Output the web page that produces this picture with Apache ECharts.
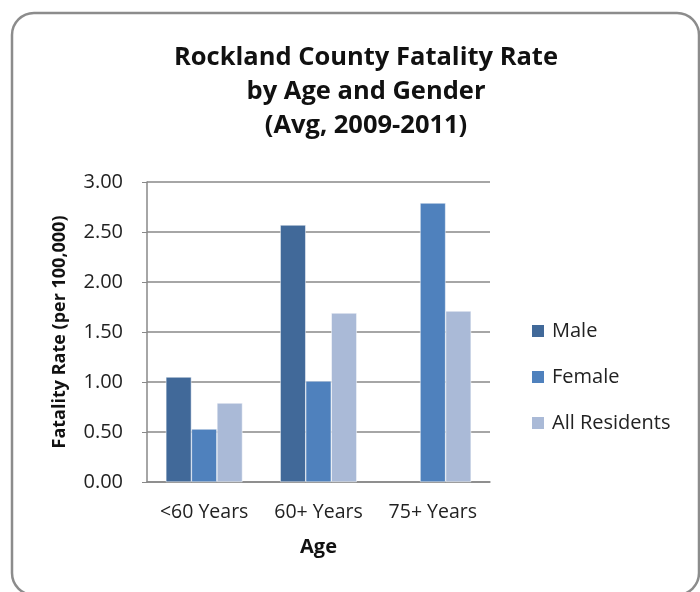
<!DOCTYPE html>
<html><head><meta charset="utf-8">
<script src="https://cdn.jsdelivr.net/npm/echarts@6/dist/echarts.min.js"></script>
<style>html,body{margin:0;padding:0;background:#fff}#c{width:700px;height:592px}</style>
</head><body><div id="c"></div>
<script>
const categories = ['<60 Years', '60+ Years', '75+ Years'];
const maleValues = [1.05, 2.57, null];
const femaleValues = [0.53, 1.01, 2.79];
const allValues = [0.79, 1.69, 1.71];
const yTicks = { min: 0, max: 3, interval: 0.5 };

const font = '"Open Sans", Lato, sans-serif';
const chart = echarts.init(document.getElementById('c'), null, { renderer: 'canvas' });
chart.setOption({
  animation: false,
  backgroundColor: '#fff',
  textStyle: { fontFamily: font },
  graphic: [{
    type: 'rect', shape: { x: 12, y: 13, width: 687, height: 582, r: 22 },
    style: { fill: 'none', stroke: '#8c8c8c', lineWidth: 2.5 }, silent: true, z: -1
  }],
  title: {
    text: 'Rockland County Fatality Rate\nby Age and Gender\n(Avg, 2009-2011)',
    left: 361, top: 36, textAlign: 'center',
    textStyle: { fontFamily: font, fontSize: 25.5, fontWeight: 'bold', color: '#111', lineHeight: 34 }
  },
  legend: {
    orient: 'vertical', left: 530, top: 321, padding: 0, itemGap: 26, itemWidth: 14, itemHeight: 14,
    icon: 'rect',
    textStyle: { fontFamily: font, fontSize: 20, color: '#222', padding: [0, 0, 0, 2] },
    data: ['Male', 'Female', 'All Residents']
  },
  grid: { left: 147, right: 210, top: 182, bottom: 110, containLabel: false },
  xAxis: {
    type: 'category', data: categories,
    name: 'Age', nameLocation: 'middle', nameGap: 55,
    nameTextStyle: { fontFamily: font, fontSize: 20, fontWeight: 'bold', color: '#111' },
    axisLine: { lineStyle: { color: '#888', width: 1.5 } },
    axisTick: { show: false },
    axisLabel: { fontFamily: font, fontSize: 19.5, color: '#222', margin: 20, interval: 0, hideOverlap: false }
  },
  yAxis: {
    type: 'value', min: yTicks.min, max: yTicks.max, interval: yTicks.interval,
    name: 'Fatality Rate (per 100,000)', nameLocation: 'middle', nameGap: 78, nameRotate: 90,
    nameTextStyle: { fontFamily: font, fontSize: 18, fontWeight: 'bold', color: '#111' },
    axisLine: { show: true, lineStyle: { color: '#888', width: 1.5 } },
    axisTick: { show: true, length: 5, lineStyle: { color: '#888' } },
    splitLine: { lineStyle: { color: '#888', width: 1.5 } },
    axisLabel: { fontFamily: font, fontSize: 20, color: '#222', margin: 24,
      formatter: v => v.toFixed(2) }
  },
  series: [
    { name: 'Male', type: 'bar', data: maleValues, barGap: '0%', barCategoryGap: '33%',
      itemStyle: { color: '#416999', borderColor: '#fff', borderWidth: 0.5 } },
    { name: 'Female', type: 'bar', data: femaleValues,
      itemStyle: { color: '#4F81BD', borderColor: '#fff', borderWidth: 0.5 } },
    { name: 'All Residents', type: 'bar', data: allValues,
      itemStyle: { color: '#AABAD7', borderColor: '#fff', borderWidth: 0.5 } }
  ]
});
</script></body></html>
